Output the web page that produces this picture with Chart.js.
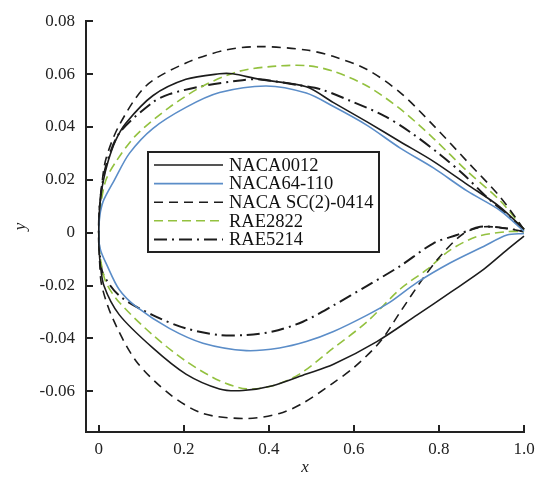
<!DOCTYPE html>
<html><head><meta charset="utf-8">
<script src="https://cdn.jsdelivr.net/npm/chart.js@4/dist/chart.umd.min.js"></script>
<style>html,body{margin:0;padding:0;background:#fff}#wrap{width:543px;height:478px}</style>
</head><body><div id="wrap"><canvas id="c" width="543" height="478"></canvas></div>
<script>
// ---- data (x/c, y/c) ----
const seriesNames = ['NACA0012', 'NACA64-110', 'NACA SC(2)-0414', 'RAE2822', 'RAE5214'];

const naca0012Upper = [[0,0],[0.0005,0.005],[0.003,0.011],[0.010,0.019],[0.022,0.027],[0.040,0.035],[0.064,0.0415],[0.127,0.0518],[0.205,0.058],[0.284,0.0601],[0.315,0.0601],[0.378,0.058],[0.488,0.0552],[0.551,0.0493],[0.631,0.0419],[0.709,0.0344],[0.787,0.027],[0.866,0.0183],[0.944,0.0097],[1.0,0.0013]];
const naca0012Lower = [[0,0],[0.0005,-0.005],[0.003,-0.011],[0.012,-0.020],[0.048,-0.031],[0.127,-0.0436],[0.205,-0.0535],[0.284,-0.0591],[0.339,-0.0597],[0.409,-0.0579],[0.488,-0.0535],[0.552,-0.0498],[0.654,-0.0412],[0.748,-0.0312],[0.827,-0.0226],[0.905,-0.0139],[0.960,-0.0065],[1.0,-0.0013]];

const naca64Upper = [[0,0],[0.001,0.004],[0.004,0.008],[0.012,0.0125],[0.037,0.020],[0.072,0.030],[0.127,0.0394],[0.205,0.0474],[0.284,0.053],[0.394,0.0555],[0.488,0.0528],[0.551,0.0478],[0.631,0.0406],[0.709,0.032],[0.787,0.0245],[0.866,0.0158],[0.944,0.0084],[1.0,0.0005]];
const naca64Lower = [[0,0],[0.001,-0.004],[0.005,-0.007],[0.017,-0.0115],[0.048,-0.0215],[0.088,-0.028],[0.166,-0.0362],[0.245,-0.0418],[0.347,-0.0446],[0.425,-0.0436],[0.488,-0.0412],[0.552,-0.0374],[0.631,-0.0312],[0.685,-0.0263],[0.748,-0.0189],[0.827,-0.0114],[0.905,-0.0052],[0.960,-0.0009],[1.0,-0.0003]];

const sc2Upper = [[0,0],[0.0005,0.005],[0.002,0.010],[0.007,0.018],[0.017,0.028],[0.048,0.0406],[0.111,0.0555],[0.205,0.0642],[0.299,0.0691],[0.378,0.0704],[0.488,0.0691],[0.551,0.0667],[0.631,0.0617],[0.709,0.053],[0.787,0.0406],[0.866,0.027],[0.944,0.0135],[1.0,0.0012]];
const sc2Lower = [[0,0],[0.0005,-0.005],[0.002,-0.011],[0.007,-0.020],[0.033,-0.0325],[0.088,-0.0486],[0.166,-0.061],[0.245,-0.0684],[0.347,-0.0703],[0.425,-0.0684],[0.480,-0.0645],[0.550,-0.057],[0.600,-0.051],[0.662,-0.0412],[0.709,-0.030],[0.756,-0.0188],[0.803,-0.0089],[0.858,-0.0003],[0.905,0.0022],[0.960,0.0016],[1.0,0.0004]];

const rae2822Upper = [[0,0],[0.001,0.005],[0.005,0.011],[0.017,0.020],[0.041,0.027],[0.088,0.0369],[0.166,0.0474],[0.245,0.0555],[0.331,0.0611],[0.409,0.0629],[0.488,0.0632],[0.551,0.0611],[0.631,0.0555],[0.709,0.0468],[0.787,0.0357],[0.866,0.0233],[0.944,0.0121],[1.0,0.0012]];
const rae2822Lower = [[0,0],[0.001,-0.005],[0.005,-0.011],[0.017,-0.0188],[0.048,-0.0263],[0.127,-0.0387],[0.205,-0.0486],[0.284,-0.056],[0.347,-0.0591],[0.409,-0.0579],[0.472,-0.0535],[0.552,-0.0436],[0.631,-0.0337],[0.709,-0.0213],[0.772,-0.0139],[0.827,-0.0065],[0.889,-0.0015],[0.960,0.0004],[1.0,0.0004]];

const rae5214Upper = [[0,0],[0.0005,0.005],[0.002,0.010],[0.008,0.018],[0.020,0.027],[0.050,0.038],[0.127,0.0493],[0.166,0.0524],[0.245,0.0555],[0.338,0.0577],[0.378,0.058],[0.470,0.0558],[0.521,0.0543],[0.591,0.0499],[0.670,0.0443],[0.732,0.0381],[0.803,0.0295],[0.858,0.022],[0.913,0.0134],[0.976,0.0047],[1.0,0.0012]];
const rae5214Lower = [[0,0],[0.0005,-0.004],[0.003,-0.009],[0.010,-0.0155],[0.048,-0.0238],[0.127,-0.0312],[0.205,-0.0362],[0.284,-0.0387],[0.347,-0.0387],[0.409,-0.0374],[0.480,-0.0337],[0.552,-0.0275],[0.631,-0.0201],[0.709,-0.0126],[0.787,-0.004],[0.842,-0.0009],[0.897,0.0022],[0.960,0.0016],[1.0,0.0004]];

const xTickValues = [0, 0.2, 0.4, 0.6, 0.8, 1.0];
const yTickValues = [-0.06, -0.04, -0.02, 0, 0.02, 0.04, 0.06, 0.08];

// ---- build ----
function loop(upper, lower) {
  return upper.slice().reverse().concat(lower.slice(1)).map(p => ({x: p[0], y: p[1]}));
}
const SERIF = "'Liberation Serif', 'Times New Roman', serif";
const BLACK = '#1c1c1c', BLUE = '#5b8dc8', GREEN = '#93c13f';

const styles = [
  {color: BLACK, dash: [], width: 1.6},
  {color: BLUE, dash: [], width: 1.6},
  {color: BLACK, dash: [9, 6], width: 1.6},
  {color: GREEN, dash: [9, 5], width: 1.6},
  {color: BLACK, dash: [13, 5, 2, 5], width: 2}
];
const shapes = [
  loop(naca0012Upper, naca0012Lower),
  loop(naca64Upper, naca64Lower),
  loop(sc2Upper, sc2Lower),
  loop(rae2822Upper, rae2822Lower),
  loop(rae5214Upper, rae5214Lower)
];
const datasets = seriesNames.map((n, i) => ({
  label: n, data: shapes[i], showLine: true, pointRadius: 0, fill: false,
  borderColor: styles[i].color, borderDash: styles[i].dash, borderWidth: styles[i].width,
  tension: 0.3, clip: false
}));

const inwardTicks = {
  id: 'inwardTicks',
  afterDraw(chart) {
    const ctx = chart.ctx, xs = chart.scales.x, ys = chart.scales.y, a = chart.chartArea;
    ctx.save(); ctx.strokeStyle = '#222'; ctx.lineWidth = 2;
    xTickValues.forEach(v => { const p = Math.round(xs.getPixelForValue(v)); ctx.beginPath(); ctx.moveTo(p, a.bottom); ctx.lineTo(p, a.bottom - 7); ctx.stroke(); });
    yTickValues.forEach(v => { const p = Math.round(ys.getPixelForValue(v)); ctx.beginPath(); ctx.moveTo(a.left, p); ctx.lineTo(a.left + 7, p); ctx.stroke(); });
    ctx.restore();
  }
};
const boxLegend = {
  id: 'boxLegend',
  afterDraw(chart) {
    const ctx = chart.ctx;
    ctx.save();
    ctx.fillStyle = '#fff'; ctx.fillRect(148, 152, 231, 100);
    ctx.strokeStyle = '#222'; ctx.lineWidth = 2; ctx.setLineDash([]);
    ctx.strokeRect(148, 152, 231, 100);
    ctx.font = '18.5px ' + SERIF; ctx.textBaseline = 'middle'; ctx.fillStyle = '#111';
    chart.data.datasets.forEach((d, i) => {
      const y = 165 + i * 18.6;
      ctx.strokeStyle = d.borderColor; ctx.lineWidth = d.borderWidth; ctx.setLineDash(d.borderDash);
      ctx.beginPath(); ctx.moveTo(154, y); ctx.lineTo(223, y); ctx.stroke();
      ctx.fillText(d.label, 229, y + 1);
    });
    ctx.restore();
  }
};

new Chart(document.getElementById('c'), {
  type: 'scatter',
  data: {datasets},
  options: {
    responsive: false, devicePixelRatio: 1, animation: false,
    layout: {padding: {top: 14, right: 19, bottom: 0, left: 0}},
    plugins: {legend: {display: false}, tooltip: {enabled: false}},
    scales: {
      x: {
        type: 'linear', min: -0.03, max: 1.0,
        afterBuildTicks: s => { s.ticks = xTickValues.map(v => ({value: v})); },
        afterFit: s => { s.height = 46; },
        ticks: {callback: v => v === 0 ? '0' : v.toFixed(1), font: {family: SERIF, size: 17}, color: '#222', padding: 7, maxRotation: 0, autoSkip: false},
        grid: {drawOnChartArea: false, drawTicks: false},
        border: {display: true, color: '#222', width: 2},
        title: {display: true, text: 'x', font: {family: SERIF, size: 17, style: 'italic'}, color: '#222', padding: {top: 0, bottom: 0}}
      },
      y: {
        type: 'linear', min: -0.0754, max: 0.08,
        afterBuildTicks: s => { s.ticks = yTickValues.map(v => ({value: v})); },
        afterFit: s => { s.width = 86; },
        ticks: {callback: v => v === 0 ? '0' : v.toFixed(2), font: {family: SERIF, size: 17}, color: '#222', padding: 11, autoSkip: false},
        grid: {drawOnChartArea: false, drawTicks: false},
        border: {display: true, color: '#222', width: 2},
        title: {display: true, text: 'y', font: {family: SERIF, size: 17, style: 'italic'}, color: '#222', padding: {top: 10, bottom: 0}}
      }
    }
  },
  plugins: [inwardTicks, boxLegend]
});
</script></body></html>
